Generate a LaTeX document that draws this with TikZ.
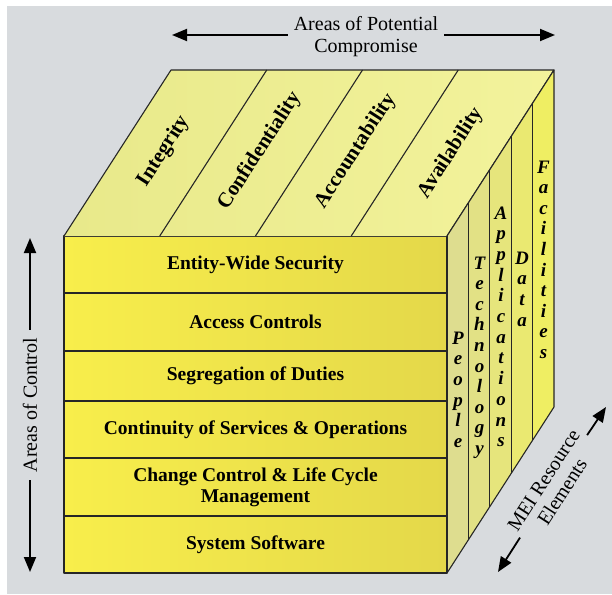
\documentclass[tikz,border=0pt]{standalone}
\usepackage{fontspec}
\setmainfont{Liberation Serif}
\usetikzlibrary{arrows.meta}
\definecolor{bg}{HTML}{D8DBDE}
\definecolor{frontL}{HTML}{F8EE4B}
\definecolor{frontR}{HTML}{E4D84A}
\definecolor{topL}{HTML}{E8E98A}
\definecolor{topR}{HTML}{F3F39C}
\definecolor{sideA}{HTML}{DEDD8F}
\definecolor{sideB}{HTML}{E2E185}
\definecolor{sideC}{HTML}{E6E57C}
\definecolor{sideD}{HTML}{EAE971}
\definecolor{sideE}{HTML}{EFEE63}
\tikzset{
  edge/.style={draw=black!85, line width=1.1pt, line join=round},
  rowtext/.style={font=\fontsize{19.5}{21}\selectfont\bfseries, align=center, inner sep=0pt},
  toptext/.style={font=\fontsize{21}{24}\selectfont\bfseries, rotate=57.2, inner sep=0pt},
  sidetext/.style={font=\fontsize{19}{20}\selectfont\bfseries\itshape, anchor=base, inner sep=0pt},
  labeltext/.style={font=\fontsize{20}{22}\selectfont, align=center},
  bigarrow/.style={line width=1.8pt, -{Triangle[length=15pt,width=12pt]}}
}
\begin{document}
\begin{tikzpicture}[x=1pt,y=-1pt]
\useasboundingbox (0,0) rectangle (612,594);
\fill[bg] (7,6) rectangle (612,594);

% ---- front face
\shade[left color=frontL, right color=frontR] (64,236) rectangle (447,573);
\foreach \yy in {293,351,401,458,516} \draw[edge] (64,\yy) -- (447,\yy);
\draw[edge] (64,236) rectangle (447,573);
\node[rowtext] (r1) at (255.5,264.5) {Entity-Wide Security};
\node[rowtext] (r2) at (255.5,322) {Access Controls};
\node[rowtext] (r3) at (255.5,376) {Segregation of Duties};
\node[rowtext] (r4) at (255.5,429.5) {Continuity of Services \& Operations};
\node[rowtext] (r5) at (255.5,487) {Change Control \& Life Cycle\\Management};
\node[rowtext] (r6) at (255.5,544.5) {System Software};

% ---- top face
\shade[left color=topL, right color=topR] (64,236) -- (171,70) -- (554,70) -- (447,236) -- cycle;
\foreach \k in {1,2,3} \draw[edge] ({64+95.75*\k},236) -- ({171+95.75*\k},70);
\draw[edge] (64,236) -- (171,70) -- (554,70) -- (447,236);
\node[toptext] (t1) at (164,151) {Integrity};
\node[toptext] (t2) at (260,151) {Confidentiality};
\node[toptext] (t3) at (356,151) {Accountability};
\node[toptext] (t4) at (451,153) {Availability};

% ---- side face
\foreach \i/\c in {0/sideA,1/sideB,2/sideC,3/sideD,4/sideE}{
  \fill[\c] ({447+21.4*\i},{236-33.2*\i}) -- ({468.4+21.4*\i},{202.8-33.2*\i})
     -- ({468.4+21.4*\i},{539.8-33.2*\i}) -- ({447+21.4*\i},{573-33.2*\i}) -- cycle;
}
\foreach \i in {1,2,3,4} \draw[edge] ({447+21.4*\i},{236-33.2*\i}) -- ({447+21.4*\i},{573-33.2*\i});
\draw[edge] (447,236) -- (554,70) -- (554,407) -- (447,573);
\draw[edge] (447,236) -- (447,573);

\foreach \ch [count=\n from 0] in {P,e,o,p,l,e}
  \node[sidetext] (sp\n) at (458,{344+20.7*\n}) {\ch};
\foreach \ch [count=\n from 0] in {T,e,c,h,n,o,l,o,g,y}
  \node[sidetext] (st\n) at (479.5,{269+20.6*\n}) {\ch};
\foreach \ch [count=\n from 0] in {A,p,p,l,i,c,a,t,i,o,n,s}
  \node[sidetext] (sa\n) at (501,{219+20.7*\n}) {\ch};
\foreach \ch [count=\n from 0] in {D,a,t,a}
  \node[sidetext] (sd\n) at (522,{264+20.7*\n}) {\ch};
\foreach \ch [count=\n from 0] in {F,a,c,i,l,i,t,i,e,s}
  \node[sidetext] (sf\n) at (543.5,{173+20.6*\n}) {\ch};

% ---- labels and arrows
\coordinate (apcL) at (172,35);
\coordinate (apcR) at (555,35);
\node[labeltext, inner xsep=6pt] (apc) at (366,37) {Areas of Potential\\Compromise};
\draw[bigarrow] (apc.west |- apcL) -- (apcL);
\draw[bigarrow] (apc.east |- apcR) -- (apcR);

\coordinate (aocT) at (30,238);
\coordinate (aocB) at (30,572);
\node[labeltext, rotate=90, inner xsep=8pt] (aoc) at (30,405) {Areas of Control};
\draw[bigarrow] (aoc) -- (aocT);
\draw[bigarrow] (aoc) -- (aocB);

\coordinate (meiL) at (498,572);
\coordinate (meiR) at (606,407);
\node[labeltext, rotate=57.2, inner xsep=3pt, inner ysep=0pt] (mei) at (553,486) {MEI Resource\\Elements};
\draw[bigarrow] (mei) -- (meiL);
\draw[bigarrow] (mei) -- (meiR);
\end{tikzpicture}
\end{document}
